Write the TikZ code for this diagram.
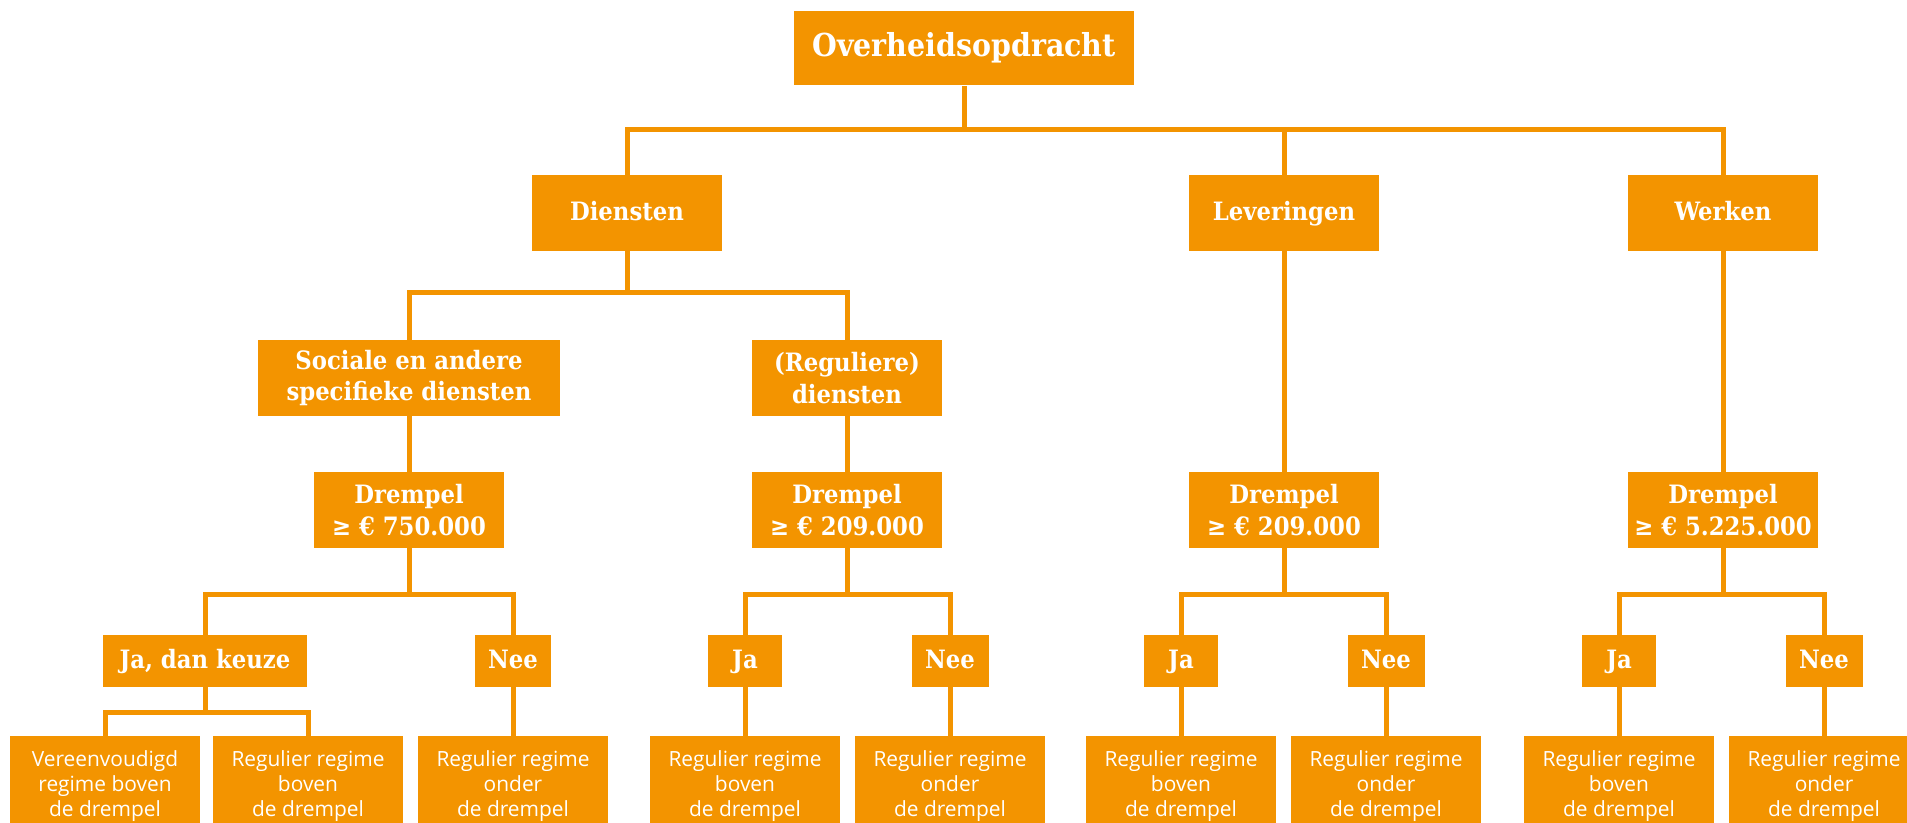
\documentclass[tikz,border=0pt]{standalone}
\usepackage{fontspec}
\setmainfont{Open Sans}
\newfontfamily\slab{DejaVu Serif}[FakeStretch=0.9]
\usepackage{xcolor}
\definecolor{oranje}{RGB}{243,148,0}
\usepackage{tikz}
\usetikzlibrary{positioning,calc}
\tikzstyle{box} = [
    rectangle, align=center,
    fill=oranje,
    text=white,
    inner sep=0pt,
]
\tikzstyle{root} = [
    box,
    minimum width=6.82cm,
    minimum height=1.5cm,
    font=\slab\bfseries\fontsize{18}{22}\selectfont,
    text height=1.03em, text depth=.05em,
]
\tikzstyle{kind} = [
    box,
    minimum width=3.8cm,
    minimum height=1.52cm,
    font=\slab\bfseries\fontsize{14.4}{18}\selectfont,
]
\tikzstyle{single} = [
    text height=.95em, text depth=.05em,
]
\tikzstyle{answer} = [
    box, single,
    minimum height=1.04cm,
    font=\slab\bfseries\fontsize{14.4}{18}\selectfont,
]
\tikzstyle{regime} = [
    box,
    minimum width=3.8cm,
    minimum height=2cm,
    font=\fontsize{11.9}{14.2}\selectfont,
]
\tikzstyle{link} = [draw=oranje, line width=0.1cm]

\begin{document}
\begin{tikzpicture}[x=0.02cm,y=-0.02cm]
    \clip (0,0) rectangle (1907,822);
    % buses
    \coordinate (rootbus) at (0,129);
    \coordinate (dienstbus) at (0,292);
    \coordinate (drempelbus) at (0,594);
    \coordinate (keuzebus) at (0,712);

    % boxes
    \node (root) at (964,48) [root] {Overheidsopdracht};
    \node (dienst) at (627,213) [kind,single] {Diensten};
    \node (leveringen) at (1284,213) [kind,single] {Leveringen};
    \node (werken) at (1723,213) [kind,single] {Werken};
    \node (sociale) at (409,378) [kind,minimum width=6.04cm] {Sociale en andere\\specifieke diensten};
    \node (reguliere) at (847,378) [kind] {(Reguliere)\\diensten};

    \node (drempel1) at (409,510) [kind] {Drempel\\≥ € 750.000};
    \node (keuze) at (205,661) [answer,minimum width=4.1cm] {Ja, dan keuze};
    \node (nee1) at (513,661) [answer,minimum width=1.54cm] {Nee};
    \node (vereenvoudigd) at (105,786) [regime] {Vereenvoudigd\\regime boven\\de drempel};
    \node (boven1) at (308,786) [regime] {Regulier regime\\boven\\de drempel};
    \node (onder1) at (513,786) [regime] {Regulier regime\\onder\\de drempel};

    \foreach \d/\j/\n/\amount [count=\k from 2] in {847/745/950/209.000, 1284/1181/1386/209.000, 1723/1619/1824/5.225.000} {
        \node (drempel\k) at (\d,510) [kind] {Drempel\\≥ € \amount};
        \node (ja\k) at (\j,661) [answer,minimum width=1.48cm] {Ja};
        \node (nee\k) at (\n,661) [answer,minimum width=1.54cm] {Nee};
        \node (boven\k) at (\j,786) [regime] {Regulier regime\\boven\\de drempel};
        \node (onder\k) at (\n,786) [regime] {Regulier regime\\onder\\de drempel};
    }

    % lines
    \draw [link] (root.south) -- (root.south |- rootbus);
    \draw [link] (dienst.north) -- (dienst.north |- rootbus) -- (werken.north |- rootbus) -- (werken.north);
    \draw [link] (leveringen.north) -- (leveringen.north |- rootbus);

    \draw [link] (dienst.south) -- (dienst.south |- dienstbus);
    \draw [link] (sociale.north) -- (sociale.north |- dienstbus) -- (reguliere.north |- dienstbus) -- (reguliere.north);
    \draw [link] (sociale.south) -- (drempel1.north);
    \draw [link] (reguliere.south) -- (drempel2.north);
    \draw [link] (leveringen.south) -- (drempel3.north);
    \draw [link] (werken.south) -- (drempel4.north);

    \draw [link] (drempel1.south) -- (drempel1.south |- drempelbus);
    \draw [link] (keuze.north) -- (keuze.north |- drempelbus) -- (nee1.north |- drempelbus) -- (nee1.north);
    \draw [link] (keuze.south) -- (keuze.south |- keuzebus);
    \draw [link] (vereenvoudigd.north) -- (vereenvoudigd.north |- keuzebus) -- (boven1.north |- keuzebus) -- (boven1.north);
    \draw [link] (nee1.south) -- (onder1.north);

    \foreach \k in {2,3,4} {
        \draw [link] (drempel\k.south) -- (drempel\k.south |- drempelbus);
        \draw [link] (ja\k.north) -- (ja\k.north |- drempelbus) -- (nee\k.north |- drempelbus) -- (nee\k.north);
        \draw [link] (ja\k.south) -- (boven\k.north);
        \draw [link] (nee\k.south) -- (onder\k.north);
    }
\end{tikzpicture}
\end{document}
